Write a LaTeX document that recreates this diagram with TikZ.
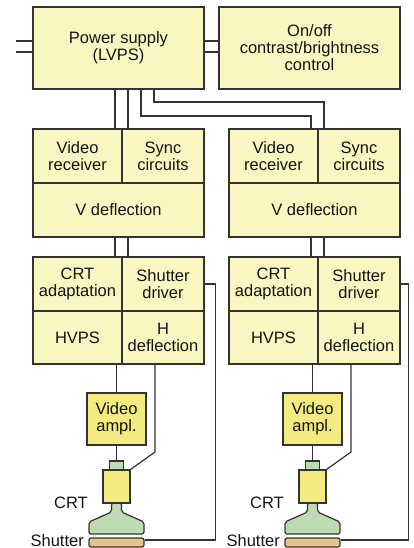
\documentclass[tikz,border=0pt]{standalone}
\usepackage{fontspec}
\setmainfont{Liberation Sans}
\usetikzlibrary{calc}
\definecolor{ink}{HTML}{333333}
\definecolor{txt}{HTML}{141414}
\definecolor{paleyel}{HTML}{FAF6C2}
\definecolor{ampyel}{HTML}{F4EB80}
\definecolor{tubegreen}{HTML}{BEDCB4}
\definecolor{shut}{HTML}{E6C487}
\newcommand\lblfont{\fontsize{16.5}{17}\selectfont}
\begin{document}
\begin{tikzpicture}[x=1pt,y=-1pt,
  cell/.style={draw=ink, line width=1.3pt, fill=paleyel, inner sep=0pt,
    text=txt, align=center, font=\lblfont},
  tube/.style={draw=ink, line width=1.2pt, inner sep=0pt},
  wire/.style={draw=ink, line width=1.2pt},
  tag/.style={text=txt, font=\lblfont, inner sep=0pt}]
\useasboundingbox (0,0) rectangle (414,548);

% power supply and control panel
\node[cell, minimum width=171pt, minimum height=82pt] (pw) at (118.5,48)
  {Power supply\\(LVPS)};
\node[cell, minimum width=181pt, minimum height=82pt] (ctl) at (309.5,48)
  {On/off\\contrast/brightness\\control};

% mains input
\coordinate (in1) at (16,41);
\coordinate (in2) at (16,52);
\draw[wire] (in1) -- (in1 -| pw.west);
\draw[wire] (in2) -- (in2 -| pw.west);

% supply to control panel
\draw[wire] ($(pw.east)+(0,-7)$) -- ($(ctl.west)+(0,-7)$);
\draw[wire] ($(pw.east)+(0,4)$) -- ($(ctl.west)+(0,4)$);

% two identical channels
\foreach \s/\w/\n in {0/11/L,196/8/R}{
\begin{scope}[xshift=\s pt]
  \node[cell, minimum width=89pt, minimum height=54pt] (vr\n) at (77.5,156) {Video\\receiver};
  \node[cell, minimum width=82pt, minimum height=54pt] (sc\n) at (163,156) {Sync\\circuits};
  \node[cell, minimum width=171pt, minimum height=54pt] (vd\n) at (118.5,210) {V deflection};
  \node[cell, minimum width=89pt, minimum height=54pt] (ca\n) at (77.5,284) {CRT\\adaptation};
  \node[cell, minimum width=82pt, minimum height=54pt] (sd\n) at (163,284) {Shutter\\driver};
  \node[cell, minimum width=89pt, minimum height=53pt] (hv\n) at (77.5,337.5) {HVPS};
  \node[cell, minimum width=82pt, minimum height=53pt] (hd\n) at (163,337.5) {H\\deflection};
  \node[cell, fill=ampyel, minimum width=59pt, minimum height=52pt] (va\n) at (116.5,419) {Video\\ampl.};

  % CRT: neck, gun housing, bell
  \draw[tube, fill=tubegreen, rounded corners=2pt]
    (111.5,503) -- (111.5,512) -- (89,522) -- (89,534) -- (144,534)
    -- (144,522) -- (121.5,512) -- (121.5,503) -- cycle;
  \node[tube, fill=tubegreen, minimum width=14pt, minimum height=9pt] (nk\n) at (116.5,465.5) {};
  \node[tube, fill=ampyel, minimum width=27pt, minimum height=33pt] (gun\n) at (116.5,486.5) {};
  \node[tube, fill=shut, rounded corners=2pt, minimum width=55pt, minimum height=9pt] (sh\n) at (116.5,542.5) {};

  \node[tag, anchor=east] (crt\n) at (88,503) {CRT};
  \node[tag, anchor=base east] (shl\n) at (84,546) {Shutter};

  % V deflection to lower board
  \coordinate (m1\n) at (115,237);
  \coordinate (m2\n) at (128,237);
  \draw[wire] (m1\n) -- (m1\n |- ca\n.north);
  \draw[wire] (m2\n) -- (m2\n |- sd\n.north);

  % HVPS to video amplifier, amplifier to neck
  \draw[wire] (va\n.north) -- (va\n.north |- hv\n.south);
  \draw[wire] (va\n.south) -- (nk\n.north);

  % H deflection to gun
  \coordinate (h\n) at (155,364);
  \draw[wire] (h\n) -- ++(0,88) -- (gun\n.north east);

  % shutter drive
  \draw[wire] (sd\n.east) -- ++(\w,0) |- ($(sh\n.north east)+(0,2.5)$);
\end{scope}
}

% supply rails down to both channels
\coordinate (p1) at (115,89);
\coordinate (p2) at (128,89);
\coordinate (p3) at (141,89);
\coordinate (p4) at (154,89);
\draw[wire] (p1) -- (p1 |- vrL.north);
\draw[wire] (p2) -- (p2 |- scL.north);
\draw[wire] (p3) -- ++(0,27) -| ($(vrR.north)+(37.5,0)$);
\draw[wire] (p4) -- ++(0,13) -| ($(scR.north)+(-35,0)$);
\end{tikzpicture}
\end{document}
